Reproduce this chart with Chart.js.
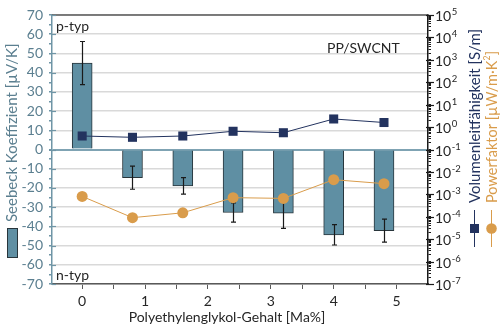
<!DOCTYPE html>
<html><head><meta charset="utf-8">
<script src="https://cdn.jsdelivr.net/npm/chart.js@4"></script>
<style>html,body{margin:0;padding:0;background:#fff}canvas{display:block}</style>
</head><body>
<canvas id="c" width="502" height="329"></canvas>
<script>
// ---- data ----
const xPos = [0, 0.8, 1.6, 2.4, 3.2, 4.0, 4.8];
const seebeck = [45.0, -14.7, -18.9, -32.8, -33.2, -44.4, -42.2];
const seebeckErr = [11.2, 6.0, 4.3, 5.0, 7.8, 5.3, 6.0];
const conductivity = [0.40, 0.35, 0.40, 0.65, 0.56, 2.3, 1.6];
const powerFactor = [8.1e-4, 9.1e-5, 1.5e-4, 7.1e-4, 6.6e-4, 4.5e-3, 3.0e-3];
const xTickValues = [0, 1, 2, 3, 4, 5];
const seebeckTicks = [-70, -60, -50, -40, -30, -20, -10, 0, 10, 20, 30, 40, 50, 60, 70];
const logExponents = [-7, -6, -5, -4, -3, -2, -1, 0, 1, 2, 3, 4, 5];

const FONT = 'Lato, "Open Sans", sans-serif';
const BAR = '#5f8fa3', BAR_EDGE = '#28353b', NAVY = '#23335f', ORANGE = '#d99c4b';
const AXISBLUE = '#5b7f90', AXISLINE = '#6f95a6';

const deco = {
  id: 'deco',
  afterDatasetDraw(chart, args) {
    if (args.index !== 0) return;
    const { ctx, scales: { x, y } } = chart;
    ctx.save();
    ctx.strokeStyle = '#1a1a1a'; ctx.lineWidth = 1.2;
    seebeck.forEach((v, i) => {
      const px = Math.round(x.getPixelForValue(xPos[i])) + 0.5;
      const t = y.getPixelForValue(v + seebeckErr[i]);
      const b = y.getPixelForValue(v - seebeckErr[i]);
      ctx.beginPath();
      ctx.moveTo(px, t); ctx.lineTo(px, b);
      ctx.moveTo(px - 2.5, t); ctx.lineTo(px + 2.5, t);
      ctx.moveTo(px - 2.5, b); ctx.lineTo(px + 2.5, b);
      ctx.stroke();
    });
    ctx.restore();
  },
  afterDraw(chart) {
    const { ctx, chartArea: ca, scales: { y, y2 } } = chart;
    ctx.save();
    // top border
    ctx.strokeStyle = '#595959'; ctx.lineWidth = 1.5;
    ctx.beginPath(); ctx.moveTo(ca.left, ca.top); ctx.lineTo(ca.right, ca.top); ctx.stroke();
    // left axis inner tick halves
    ctx.strokeStyle = AXISLINE; ctx.lineWidth = 1.2;
    seebeckTicks.forEach(v => {
      const py = Math.round(y.getPixelForValue(v)) + 0.5;
      ctx.beginPath(); ctx.moveTo(ca.left, py); ctx.lineTo(ca.left + 4, py); ctx.stroke();
    });
    // right axis major ticks + labels
    ctx.strokeStyle = '#1a1a1a'; ctx.lineWidth = 1.2;
    ctx.fillStyle = '#262626'; ctx.textBaseline = 'middle'; ctx.textAlign = 'left';
    logExponents.forEach(e => {
      const py = Math.round(y2.getPixelForValue(Math.pow(10, e))) + 0.5;
      ctx.beginPath(); ctx.moveTo(ca.right - 2, py); ctx.lineTo(ca.right + 6, py); ctx.stroke();
      ctx.font = '14px ' + FONT;
      ctx.fillText('10', 435, py + 1);
      const w = ctx.measureText('10').width;
      ctx.font = '9.5px ' + FONT;
      ctx.fillText(String(e), 435 + w + 0.5, py - 4);
    });
    // in-plot texts
    ctx.fillStyle = '#262626'; ctx.font = '14px ' + FONT;
    ctx.fillText('p-typ', 56, 26);
    ctx.fillText('n-typ', 56, 275);
    ctx.fillText('PP/SWCNT', 327, 48);
    // x title
    ctx.textAlign = 'center';
    ctx.fillText('Polyethylenglykol-Gehalt [Ma%]', 227, 317);
    // left title
    ctx.save();
    ctx.translate(12, 222); ctx.rotate(-Math.PI / 2);
    ctx.textAlign = 'left'; ctx.fillStyle = AXISBLUE; ctx.font = '15px ' + FONT;
    ctx.fillText('Seebeck Koeffizient [µV/K]', 0, 0);
    ctx.restore();
    // left legend swatch
    ctx.fillStyle = BAR; ctx.strokeStyle = BAR_EDGE; ctx.lineWidth = 1;
    ctx.fillRect(7.5, 228.5, 10, 29); ctx.strokeRect(7.5, 228.5, 10, 29);
    // right titles
    ctx.save();
    ctx.translate(475, 203); ctx.rotate(-Math.PI / 2);
    ctx.textAlign = 'left'; ctx.fillStyle = NAVY; ctx.font = '15px ' + FONT;
    ctx.fillText('Volumenleitfähigkeit [S/m]', 0, 0);
    ctx.restore();
    ctx.save();
    ctx.translate(492, 203); ctx.rotate(-Math.PI / 2);
    ctx.textAlign = 'left'; ctx.fillStyle = ORANGE; ctx.font = '14.5px ' + FONT;
    const p1 = 'Powerfaktor [µW/m·K';
    ctx.fillText(p1, 0, 0);
    let wx = ctx.measureText(p1).width;
    ctx.font = '8.5px ' + FONT;
    ctx.fillText('2', wx + 0.3, -5);
    wx += ctx.measureText('2').width + 0.6;
    ctx.font = '14.5px ' + FONT;
    ctx.fillText(']', wx, 0);
    ctx.restore();
    // right legend markers
    ctx.lineWidth = 1;
    ctx.strokeStyle = NAVY; ctx.beginPath(); ctx.moveTo(474.5, 210); ctx.lineTo(474.5, 247); ctx.stroke();
    ctx.fillStyle = NAVY; ctx.fillRect(470, 224, 9, 9);
    ctx.strokeStyle = ORANGE; ctx.beginPath(); ctx.moveTo(491.5, 210); ctx.lineTo(491.5, 247); ctx.stroke();
    ctx.fillStyle = ORANGE; ctx.beginPath(); ctx.arc(491.5, 228.5, 5.3, 0, Math.PI * 2); ctx.fill();
    ctx.restore();
  }
};

new Chart(document.getElementById('c'), {
  type: 'bar',
  data: {
    datasets: [
      { type: 'bar', data: xPos.map((x, i) => ({ x, y: seebeck[i] })), xAxisID: 'x', yAxisID: 'y',
        backgroundColor: BAR, borderColor: BAR_EDGE, borderWidth: 1, barThickness: 20, order: 3 },
      { type: 'line', data: xPos.map((x, i) => ({ x, y: conductivity[i] })), xAxisID: 'x', yAxisID: 'y2',
        borderColor: NAVY, borderWidth: 1, pointStyle: 'rect', pointRadius: 6.4, pointBackgroundColor: NAVY,
        pointBorderWidth: 0, tension: 0, order: 2 },
      { type: 'line', data: xPos.map((x, i) => ({ x, y: powerFactor[i] })), xAxisID: 'x', yAxisID: 'y2',
        borderColor: ORANGE, borderWidth: 1, pointStyle: 'circle', pointRadius: 5.5, pointBackgroundColor: ORANGE,
        pointBorderWidth: 0, tension: 0, order: 1 }
    ]
  },
  options: {
    responsive: false, animation: false,
    layout: { padding: { top: 15, right: 0, left: 0, bottom: 0 } },
    plugins: { legend: { display: false }, tooltip: { enabled: false } },
    scales: {
      x: {
        type: 'linear', position: 'bottom', min: -0.48, max: 5.5, offset: false,
        afterBuildTicks: s => { const t = []; for (let v = 0; v <= 5.001; v += 0.5) t.push({ value: Math.round(v * 10) / 10 }); s.ticks = t; },
        ticks: { autoSkip: false, maxRotation: 0, padding: 4, color: '#262626', font: { family: FONT, size: 14 },
          callback: v => xTickValues.includes(v) ? String(v) : '' },
        grid: { drawOnChartArea: false, tickLength: 5, color: '#595959', offset: false },
        border: { color: '#595959', width: 1.5 },
        afterFit: s => { s.height = 45; }
      },
      y: {
        position: 'left', min: -70, max: 70,
        afterBuildTicks: s => { const t = []; for (let v = -70; v <= 70; v += 5) t.push({ value: v }); s.ticks = t; },
        ticks: { autoSkip: false, padding: 6, color: AXISBLUE, font: { family: FONT, size: 14 },
          callback: v => seebeckTicks.includes(v) ? String(v) : '' },
        grid: {
          color: c => c.tick && c.tick.value === 0 ? '#7fa3b3' : (c.tick && seebeckTicks.includes(c.tick.value) ? '#d9d9d9' : 'rgba(0,0,0,0)'),
          lineWidth: c => c.tick && c.tick.value === 0 ? 2 : 1.5,
          tickColor: AXISLINE, tickLength: 3
        },
        border: { color: AXISLINE, width: 1.5 },
        afterFit: s => { s.width = 52; }
      },
      y2: {
        type: 'logarithmic', position: 'right', min: 1e-7, max: 1e5,
        afterBuildTicks: s => { const t = []; for (let e = -7; e < 5; e++) for (let k = 1; k <= 9; k++) t.push({ value: k * Math.pow(10, e) }); t.push({ value: 1e5 }); s.ticks = t; },
        ticks: { autoSkip: false, callback: () => '' },
        grid: { drawOnChartArea: false, tickLength: 3, color: '#1a1a1a' },
        border: { color: '#1a1a1a', width: 1.5 },
        afterFit: s => { s.width = 74; }
      }
    }
  },
  plugins: [deco]
});
</script>
</body></html>
